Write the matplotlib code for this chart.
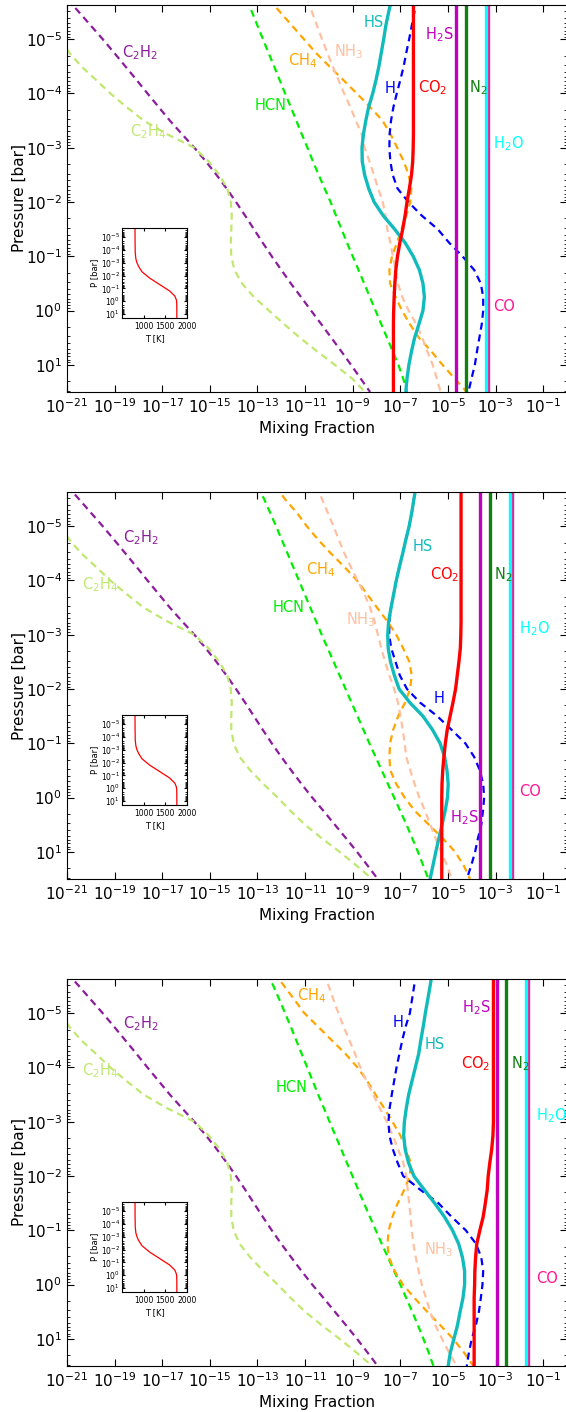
import numpy as np
import matplotlib
matplotlib.use('Agg')
from matplotlib import pyplot as plt
from matplotlib import ticker

# pressure levels (log10 bar) shared by all the abundance profiles
log_p = np.arange(-5.75, 1.51, 0.25)

# log10 mixing fraction at each level, one row per panel (top, middle, bottom)
c2h2 = [[-21.0, -20.5, -20.0, -19.5, -19.02, -18.55, -18.08, -17.62, -17.15, -16.68, -16.17, -15.65, -15.17, -14.72, -14.3,
         -13.9, -13.52, -13.15, -12.78, -12.4, -12.0, -11.6, -11.17, -10.75, -10.32, -9.9, -9.48, -9.07, -8.67, -8.27],
        [-21.0, -20.5, -20.0, -19.5, -19.02, -18.55, -18.08, -17.62, -17.15, -16.68, -16.17, -15.65, -15.17, -14.72, -14.3,
         -13.9, -13.52, -13.15, -12.78, -12.4, -12.0, -11.58, -11.15, -10.7, -10.22, -9.75, -9.28, -8.82, -8.38, -7.95],
        [-21.0, -20.5, -20.0, -19.5, -19.02, -18.55, -18.08, -17.62, -17.15, -16.68, -16.17, -15.65, -15.17, -14.72, -14.3,
         -13.9, -13.52, -13.15, -12.78, -12.4, -12.0, -11.58, -11.15, -10.7, -10.22, -9.75, -9.28, -8.82, -8.38, -7.95]]
c2h4 = [[-22.4, -22.0, -21.62, -21.28, -20.9, -20.4, -19.78, -19.18, -18.5, -17.78, -16.8, -15.65, -15.05, -14.6, -14.27,
         -14.12, -14.08, -14.1, -14.12, -14.1, -13.97, -13.65, -13.15, -12.52, -11.88, -11.22, -10.5, -9.75, -9.03, -8.48],
        [-22.4, -22.0, -21.62, -21.28, -20.9, -20.4, -19.78, -19.18, -18.5, -17.78, -16.8, -15.65, -15.05, -14.6, -14.27,
         -14.12, -14.08, -14.1, -14.1, -14.0, -13.75, -13.3, -12.75, -12.15, -11.6, -11.0, -10.3, -9.55, -8.85, -8.18],
        [-22.4, -22.0, -21.62, -21.28, -20.9, -20.4, -19.78, -19.18, -18.5, -17.78, -16.8, -15.65, -15.05, -14.6, -14.27,
         -14.12, -14.08, -14.1, -14.1, -14.0, -13.75, -13.3, -12.75, -12.15, -11.6, -11.0, -10.3, -9.55, -8.85, -8.18]]
hcn = [[-13.47, -13.23, -13.0, -12.77, -12.54, -12.3, -12.07, -11.84, -11.6, -11.37, -11.14, -10.9, -10.67, -10.43, -10.18,
        -9.93, -9.7, -9.47, -9.24, -9.0, -8.76, -8.52, -8.28, -8.04, -7.8, -7.56, -7.32, -7.08, -6.88, -6.72],
       [-13.0, -12.72, -12.47, -12.22, -11.98, -11.74, -11.5, -11.26, -11.02, -10.78, -10.54, -10.3, -10.05, -9.8, -9.55,
        -9.3, -9.05, -8.8, -8.55, -8.3, -8.04, -7.78, -7.52, -7.26, -7.0, -6.74, -6.5, -6.26, -6.04, -5.82],
       [-12.6, -12.33, -12.08, -11.84, -11.6, -11.37, -11.14, -10.91, -10.68, -10.45, -10.21, -9.97, -9.73, -9.49, -9.25,
        -9.01, -8.77, -8.53, -8.28, -8.03, -7.78, -7.52, -7.26, -7.0, -6.75, -6.5, -6.26, -6.03, -5.81, -5.61]]
ch4 = [[-12.55, -12.05, -11.55, -11.05, -10.55, -9.98, -9.4, -8.83, -8.27, -7.75, -7.41, -7.13, -6.86, -6.65, -6.54,
        -6.58, -6.75, -6.95, -7.14, -7.35, -7.46, -7.43, -7.2, -6.93, -6.6, -6.22, -5.7, -5.23, -4.72, -4.21],
       [-12.25, -11.85, -11.35, -10.93, -10.45, -9.92, -9.35, -8.82, -8.4, -7.98, -7.55, -7.17, -6.88, -6.62, -6.52,
        -6.59, -6.8, -7.09, -7.3, -7.43, -7.46, -7.42, -7.17, -6.82, -6.38, -5.8, -5.22, -4.7, -4.34, -4.07],
       [-12.3, -11.88, -11.45, -11.03, -10.45, -9.88, -9.3, -8.8, -8.39, -8.04, -7.68, -7.33, -7.0, -6.76, -6.57,
        -6.6, -6.83, -7.11, -7.33, -7.49, -7.54, -7.48, -7.24, -6.89, -6.4, -5.87, -5.32, -4.78, -4.33, -3.93]]
nh3 = [[-10.9, -10.71, -10.5, -10.29, -10.07, -9.84, -9.6, -9.36, -9.1, -8.87, -8.62, -8.5, -8.3, -8.11, -7.93,
        -7.74, -7.62, -7.55, -7.42, -7.31, -7.2, -7.1, -6.92, -6.65, -6.33, -6.08, -5.87, -5.64, -5.47, -5.31],
       [-10.55, -10.29, -10.05, -9.81, -9.58, -9.35, -9.08, -8.8, -8.51, -8.27, -8.09, -7.94, -7.8, -7.64, -7.46,
        -7.26, -7.1, -6.99, -6.9, -6.82, -6.75, -6.58, -6.4, -6.2, -5.96, -5.74, -5.52, -5.29, -5.04, -4.84],
       [-10.2, -10.01, -9.81, -9.6, -9.38, -9.14, -8.9, -8.68, -8.42, -8.14, -7.86, -7.57, -7.32, -7.1, -6.88,
        -6.75, -6.69, -6.63, -6.57, -6.52, -6.45, -6.35, -6.23, -6.1, -5.92, -5.75, -5.53, -5.25, -4.96, -4.63]]
h = [[-6.3, -6.41, -6.52, -6.63, -6.75, -6.86, -7.0, -7.15, -7.29, -7.39, -7.45, -7.46, -7.42, -7.32, -7.12,
      -6.66, -6.1, -5.43, -4.95, -4.39, -3.9, -3.62, -3.52, -3.52, -3.58, -3.68, -3.78, -3.87, -4.01, -4.14],
     [-6.33, -6.43, -6.52, -6.63, -6.77, -6.9, -7.04, -7.17, -7.28, -7.39, -7.46, -7.47, -7.38, -7.2, -7.02,
      -6.72, -6.17, -5.45, -4.85, -4.27, -3.9, -3.66, -3.52, -3.48, -3.53, -3.6, -3.74, -3.86, -4.02, -4.21],
     [-6.36, -6.42, -6.51, -6.6, -6.78, -6.92, -7.04, -7.16, -7.26, -7.36, -7.45, -7.5, -7.46, -7.32, -7.12,
      -6.88, -6.17, -5.4, -4.85, -4.25, -3.82, -3.6, -3.52, -3.55, -3.62, -3.7, -3.83, -4.0, -4.12, -4.21]]
hs = [[-7.36, -7.49, -7.61, -7.7, -7.8, -7.9, -8.02, -8.16, -8.33, -8.45, -8.55, -8.61, -8.6, -8.5, -8.33,
       -8.1, -7.72, -7.24, -6.8, -6.46, -6.2, -6.05, -5.99, -6.05, -6.22, -6.4, -6.53, -6.64, -6.72, -6.77],
      [-6.33, -6.43, -6.52, -6.63, -6.77, -6.9, -7.04, -7.17, -7.28, -7.39, -7.49, -7.53, -7.51, -7.41, -7.25,
       -7.05, -6.6, -6.05, -5.65, -5.33, -5.14, -5.04, -4.99, -5.02, -5.12, -5.25, -5.38, -5.51, -5.63, -5.75],
      [-5.66, -5.75, -5.85, -5.95, -6.04, -6.14, -6.23, -6.37, -6.51, -6.65, -6.75, -6.83, -6.86, -6.8, -6.66,
       -6.43, -6.0, -5.56, -5.15, -4.81, -4.55, -4.39, -4.3, -4.3, -4.37, -4.49, -4.6, -4.75, -4.9, -4.99]]
co2 = [[-6.45, -6.45, -6.45, -6.45, -6.45, -6.45, -6.45, -6.45, -6.45, -6.45, -6.45, -6.46, -6.48, -6.53, -6.62,
        -6.72, -6.8, -6.9, -7.02, -7.12, -7.19, -7.23, -7.26, -7.28, -7.29, -7.29, -7.29, -7.29, -7.29, -7.29],
       [-4.45, -4.45, -4.45, -4.45, -4.45, -4.45, -4.45, -4.45, -4.45, -4.45, -4.45, -4.46, -4.48, -4.54, -4.61,
        -4.68, -4.79, -4.91, -5.03, -5.11, -5.17, -5.22, -5.25, -5.26, -5.26, -5.26, -5.26, -5.26, -5.26, -5.26],
       [-3.09, -3.09, -3.09, -3.09, -3.09, -3.09, -3.09, -3.09, -3.09, -3.09, -3.09, -3.09, -3.11, -3.16, -3.24,
        -3.31, -3.35, -3.43, -3.52, -3.66, -3.79, -3.84, -3.87, -3.88, -3.9, -3.9, -3.9, -3.9, -3.9, -3.9]]
h2s = [-4.68, -3.65, -2.95]
n2 = [-4.26, -3.23, -2.56]
h2o = [-3.42, -2.41, -1.72]
co = [-3.30, -2.30, -1.62]

# temperature profile of the inset
tp_logp = [-5.7, -4.5, -3.75, -3.3, -3.0, -2.7, -2.3, -1.8, -1.3, -0.8, -0.4, -0.1, 0.1, 0.5, 1.3]
tp_temp = [800, 802, 806, 820, 845, 885, 960, 1140, 1370, 1600, 1720, 1755, 1762, 1765, 1765]

dashed = [(c2h2, '#8b1c9c'), (c2h4, '#c0e870'), (hcn, '#00ee00'), (ch4, '#ffa500'),
          (nh3, '#ffc0a0'), (h, '#0000ff')]
solid = [(hs, '#11bbbb'), (co2, '#ff0000')]
flat = [(h2s, '#bf00bf'), (n2, '#118011'), (co, '#ff1493'), (h2o, '#00ffff')]

names = {'C2H2': (r'C$_2$H$_2$', '#8b1c9c'), 'C2H4': (r'C$_2$H$_4$', '#c0e870'),
         'HCN': ('HCN', '#00ee00'), 'CH4': (r'CH$_4$', '#ffa500'), 'NH3': (r'NH$_3$', '#ffc0a0'),
         'H': ('H', '#0000ff'), 'HS': ('HS', '#11bbbb'), 'CO2': (r'CO$_2$', '#ff0000'),
         'H2S': (r'H$_2$S', '#bf00bf'), 'N2': (r'N$_2$', '#118011'), 'H2O': (r'H$_2$O', '#00ffff'),
         'CO': ('CO', '#ff1493')}

# label anchors (log x of left edge, log p of centre) for each panel
labels = [
    {'C2H2': (-18.69, -4.76), 'C2H4': (-18.35, -3.29), 'HCN': (-13.1, -3.77), 'CH4': (-11.71, -4.61),
     'NH3': (-9.8, -4.77), 'HS': (-8.56, -5.31), 'H': (-7.64, -4.1), 'CO2': (-6.26, -4.1),
     'H2S': (-5.96, -5.09), 'N2': (-4.13, -4.1), 'H2O': (-3.1, -3.07), 'CO': (-3.1, -0.08)},
    {'C2H2': (-18.64, -4.79), 'C2H4': (-20.35, -3.93), 'HCN': (-12.38, -3.5), 'CH4': (-10.96, -4.2),
     'NH3': (-9.29, -3.27), 'HS': (-6.48, -4.63), 'CO2': (-5.76, -4.1), 'N2': (-3.06, -4.1),
     'H2O': (-2.0, -3.12), 'H': (-5.59, -1.82), 'CO': (-2.0, -0.12), 'H2S': (-4.92, 0.37)},
    {'CH4': (-11.34, -5.32), 'C2H2': (-18.64, -4.8), 'C2H4': (-20.35, -3.95), 'HCN': (-12.22, -3.64),
     'H': (-7.31, -4.82), 'HS': (-5.99, -4.42), 'H2S': (-4.42, -5.11), 'CO2': (-4.47, -4.07),
     'N2': (-2.37, -4.07), 'H2O': (-1.3, -3.12), 'NH3': (-6.02, -0.64), 'CO': (-1.3, -0.12)},
]

W, H = 566, 1412
fig = plt.figure(figsize=(W / 100, H / 100), dpi=100)
p = 10.0 ** log_p

for i, top in enumerate([5, 492, 979]):
    ax = fig.add_axes([67 / W, 1 - (top + 387) / H, 500 / W, 387 / H])

    for arr, col in dashed:
        ax.plot(10.0 ** np.array(arr[i]), p, color=col, lw=1.6, ls=(0, (3.2, 2.2)))
    for arr, col in solid:
        ax.plot(10.0 ** np.array(arr[i]), p, color=col, lw=2.4)
    for arr, col in flat:
        ax.plot([10.0 ** arr[i]] * 2, [p[0], p[-1]], color=col, lw=2.4)

    for key, (lx, lp) in labels[i].items():
        txt, col = names[key]
        ax.text(10.0 ** lx, 10.0 ** lp, txt, color=col, fontsize=10.5, ha='left', va='center')

    ax.set_xscale('log')
    ax.set_yscale('log')
    ax.set_xlim(1e-21, 1e0)
    ax.set_ylim(10 ** 1.5, 10 ** -5.63)
    ax.set_xticks(10.0 ** np.arange(-21, 0, 2))
    ax.xaxis.set_minor_locator(ticker.NullLocator())
    ax.yaxis.set_major_locator(ticker.LogLocator(base=10, numticks=20))
    ax.yaxis.set_minor_locator(ticker.LogLocator(base=10, subs=np.arange(2, 10), numticks=20))
    ax.yaxis.set_minor_formatter(ticker.NullFormatter())
    ax.tick_params(which='both', direction='in', top=True, right=True, labelsize=11)
    ax.tick_params(which='major', length=5)
    ax.tick_params(which='minor', length=2.5)
    ax.set_xlabel('Mixing Fraction', fontsize=11)
    ax.set_ylabel('Pressure [bar]', fontsize=11)
    ax.yaxis.set_label_coords(-0.08, 0.5)

    ins = fig.add_axes([122 / W, 1 - (top + 313) / H, 65 / W, 90 / H])
    ins.plot(tp_temp, 10.0 ** np.array(tp_logp), color='red', lw=0.9)
    ins.set_yscale('log')
    ins.set_xlim(500, 2000)
    ins.set_ylim(10 ** 1.3, 10 ** -5.7)
    ins.set_xticks([1000, 1500, 2000])
    ins.yaxis.set_major_locator(ticker.LogLocator(base=10, numticks=20))
    ins.yaxis.set_minor_locator(ticker.LogLocator(base=10, subs=np.arange(2, 10), numticks=20))
    ins.yaxis.set_minor_formatter(ticker.NullFormatter())
    ins.tick_params(which='both', direction='in', top=True, right=True, labelsize=5.5, pad=1.5)
    ins.tick_params(axis='x', pad=3)
    ins.tick_params(which='major', length=2.5)
    ins.tick_params(which='minor', length=1.5)
    ins.set_xlabel('T [K]', fontsize=6, labelpad=2)
    ins.set_ylabel('P [bar]', fontsize=6, labelpad=1)

fig.savefig('out.png', dpi=100)
